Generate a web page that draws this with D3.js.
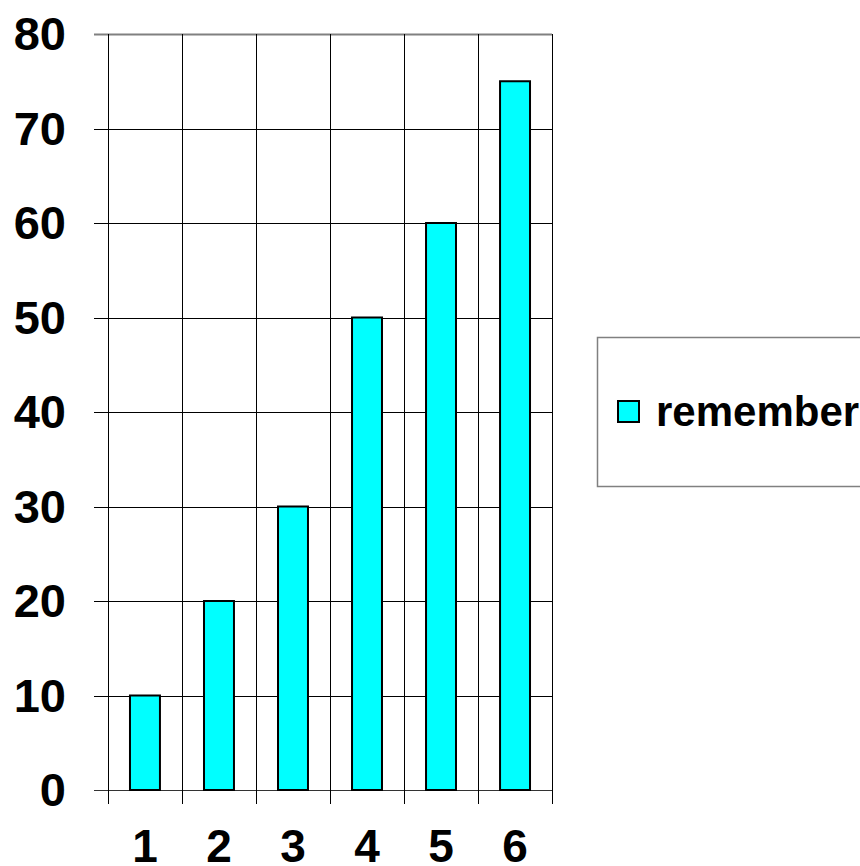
<!DOCTYPE html>
<html>
<head>
<meta charset="utf-8">
<script src="https://cdn.jsdelivr.net/npm/d3@7"></script>
<style>
html,body{margin:0;padding:0;background:#fff;overflow:hidden;}
text{font-family:"Liberation Sans",Arial,sans-serif;font-weight:bold;fill:#000;}
</style>
</head>
<body>
<svg id="chart" width="860" height="866"></svg>
<script>
const categories = ["1","2","3","4","5","6"];
const values = [10, 20, 30, 50, 60, 75];
const yTicks = [0,10,20,30,40,50,60,70,80];
const seriesName = "remember";

(function(){
const svg = d3.select("#chart");
const pLeft = 108, pRight = 552, pTop = 34, pBottom = 790;

const x = d3.scaleBand().domain(categories).range([pLeft, pRight]).paddingInner(0.595).paddingOuter(0.297);
const xb = d3.scaleBand().domain(categories).range([pLeft, pRight]);
const y = d3.scaleLinear().domain([0, 80]).range([pBottom, pTop]);

// horizontal gridlines with left tick stubs
svg.append("g").selectAll("line").data(yTicks).join("line")
  .attr("x1", pLeft - 14).attr("x2", pRight)
  .attr("y1", d => Math.round(y(d)) + 0.5).attr("y2", d => Math.round(y(d)) + 0.5)
  .attr("stroke", d => d === 80 ? "#808080" : (d === 0 ? "#333" : "#000"))
  .attr("stroke-width", d => d === 80 ? 2 : 1);

// vertical gridlines with bottom tick stubs
const vEdges = categories.map(c => xb(c)).concat([pRight]);
svg.append("g").selectAll("line").data(vEdges).join("line")
  .attr("x1", d => Math.round(d) + 0.5).attr("x2", d => Math.round(d) + 0.5)
  .attr("y1", pTop).attr("y2", pBottom + 14)
  .attr("stroke", "#000").attr("stroke-width", 1);

// bars
svg.append("g").selectAll("rect").data(values).join("rect")
  .attr("x", (d, i) => x(categories[i]))
  .attr("y", d => y(d))
  .attr("width", x.bandwidth())
  .attr("height", d => y(0) - y(d))
  .attr("fill", "#00FFFF")
  .attr("stroke", "#000").attr("stroke-width", 2);

// y labels
svg.append("g").selectAll("text").data(yTicks).join("text")
  .attr("x", 66).attr("y", d => y(d))
  .attr("dy", "0.35em")
  .attr("text-anchor", "end")
  .attr("font-size", 47)
  .text(d => d);

// x labels
svg.append("g").selectAll("text").data(categories).join("text")
  .attr("x", d => xb(d) + xb.bandwidth() / 2)
  .attr("y", 862)
  .attr("text-anchor", "middle")
  .attr("font-size", 46)
  .text(d => d);

// legend
const lg = svg.append("g");
lg.append("rect").attr("x", 597.5).attr("y", 337.5).attr("width", 300).attr("height", 149)
  .attr("fill", "#fff").attr("stroke", "#808080").attr("stroke-width", 1.5);
lg.append("rect").attr("x", 618).attr("y", 401).attr("width", 21).attr("height", 21)
  .attr("fill", "#00FFFF").attr("stroke", "#000").attr("stroke-width", 2);
lg.append("text").attr("x", 656).attr("y", 426).attr("font-size", 42).text(seriesName);
})();
</script>
</body>
</html>
